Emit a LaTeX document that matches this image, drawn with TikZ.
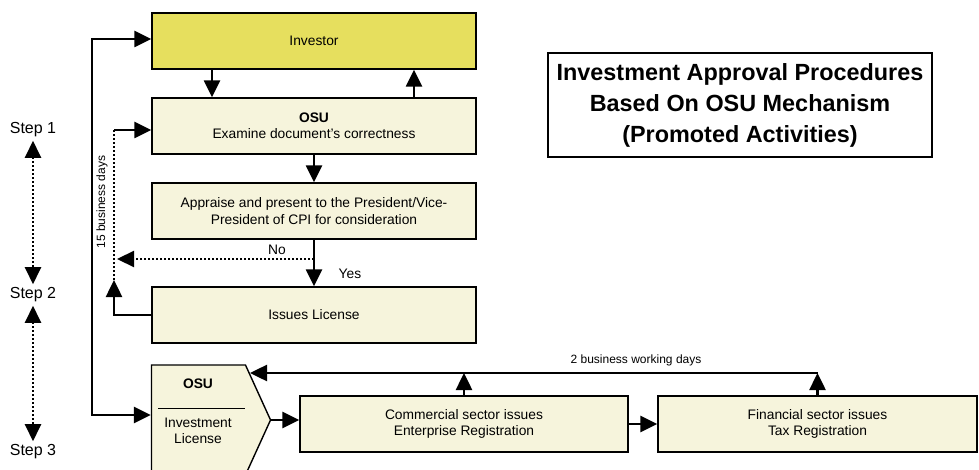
\documentclass[tikz,border=0pt]{standalone}
\usepackage{fontspec}
\setmainfont{Liberation Sans}
\usetikzlibrary{arrows.meta,positioning,shapes.symbols}
\definecolor{investoryellow}{RGB}{230,223,94}
\definecolor{boxcream}{RGB}{246,244,220}

\begin{document}
\begin{tikzpicture}[x=1pt, y=-1pt, every node/.style={font=\fontsize{13.8}{16.5}\selectfont}]
\tikzstyle{box}=[draw, line width=1.4pt, fill=boxcream, minimum width=324pt, minimum height=56pt, align=center, inner sep=2pt]
\tikzstyle{arr}=[line width=2.5pt, -{Triangle[length=17pt,width=16pt]}]
\tikzstyle{dotline}=[line width=2.2pt, dash pattern=on 2pt off 2pt]
\tikzstyle{steplbl}=[font=\fontsize{16}{18}\selectfont]
\tikzstyle{small}=[font=\fontsize{12}{14}\selectfont]
\useasboundingbox (0,0) rectangle (979,470);
% boxes
\node[box, fill=investoryellow] (inv) at (314,41) {Investor};
\node[box] (osu) at (314,126) {\textbf{OSU}\\Examine document's correctness};
\node[box] (app) at (314,211) {Appraise and present to the President/Vice-\\President of CPI for consideration};
\node[box] (iss) at (314,315) {Issues License};
\node[box, signal, signal to=east, signal pointer angle=131, minimum width=119pt, minimum height=110pt] (lic) at (198.5,420) {};
\node[box, minimum width=328pt] (com) at (464,424) {Commercial sector issues\\Enterprise Registration};
\node[box, minimum width=319pt] (fin) at (817.5,424) {Financial sector issues\\Tax Registration};
\node[draw, line width=1.4pt, minimum width=384pt, minimum height=104pt, align=center, font=\fontsize{23.4}{31}\selectfont\bfseries] (title) at (740,105) {Investment Approval Procedures\\Based On OSU Mechanism\\(Promoted Activities)};
% text in the OSU licence box
\node[font=\fontsize{13.8}{16.5}\selectfont\bfseries] (licosu) at (198,384) {OSU};
\draw[line width=0.9pt] (158,408) -- (245,408);
\node[align=center] (lictext) at (198,431) {Investment\\License};
% steps
\node[steplbl] (s1) at (33,130) {Step 1};
\node[steplbl] (s2) at (33,295) {Step 2};
\node[steplbl] (s3) at (33,452) {Step 3};
\draw[dotline, {Triangle[length=17pt,width=16pt]}-{Triangle[length=17pt,width=16pt]}] (s1) -- (s2);
\draw[dotline, {Triangle[length=17pt,width=16pt]}-{Triangle[length=17pt,width=16pt]}] (s2) -- (s3);
% main flow
\draw[arr] ([xshift=-102pt]inv.south) -- ([xshift=-102pt]osu.north);
\draw[arr] ([xshift=100pt]osu.north) -- ([xshift=100pt]inv.south);
\foreach \i/\j in {osu/app,app/iss,com/fin}{\draw[arr] (\i) -- (\j);}
\draw[arr] (lic.east) -- (com.west |- lic.east);
\node (yes) at (350,274) {Yes};
% rejected
\coordinate (noend) at (117,259);
\draw[dotline, -{Triangle[length=17pt,width=16pt]}] (app.south |- noend) -- (noend);
\node (no) at (277,250) {No};
% 15 days loop
\coordinate (loopbot) at (114,280);
\coordinate (looptop) at (114,130);
\draw[arr] (iss.west) -| (loopbot);
\draw[dotline] (loopbot) -- (looptop);
\draw[arr] (looptop) -- (osu.west |- looptop);
\node[small, rotate=90] (days15) at (102,202) {15 business days};
% outer bus
\coordinate (busbot) at (92,415);
\draw[line width=2.5pt, {Triangle[length=17pt,width=16pt]}-{Triangle[length=17pt,width=16pt]}] ([yshift=2pt]inv.west) -| (busbot) -- ([yshift=5pt]lic.west);
% registration return
\coordinate (retcorner) at (822,373);
\coordinate (retend) at (250,373);
\draw[arr] (fin.north) -- (fin.north |- retcorner);
\draw[arr] (com.north) -- (com.north |- retcorner);
\draw[arr] (fin.north |- retcorner) -- (retend);
\node[small] (days2) at (636,360) {2 business working days};
\end{tikzpicture}
\end{document}
